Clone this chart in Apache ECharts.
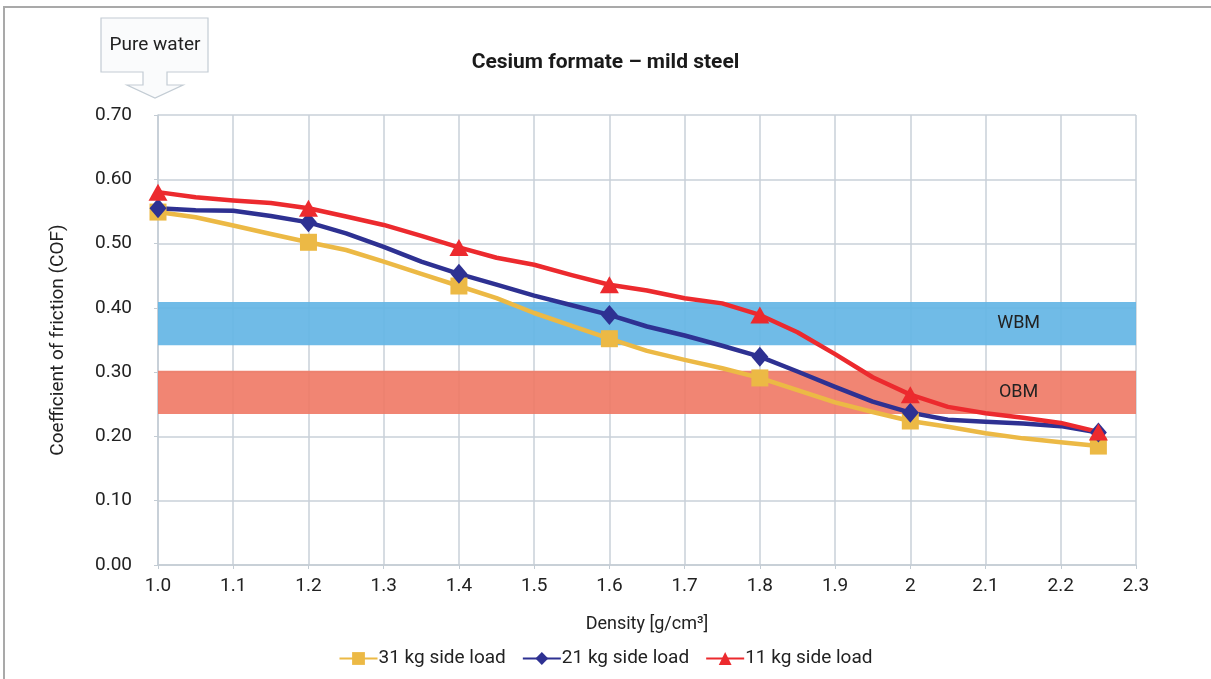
<!DOCTYPE html>
<html>
<head>
<meta charset="utf-8">
<title>Cesium formate – mild steel</title>
<script src="https://cdn.jsdelivr.net/npm/echarts@6/dist/echarts.min.js"></script>
<style>
  html, body { margin: 0; padding: 0; background: #fff; }
  #chart { width: 1211px; height: 679px; }
</style>
</head>
<body>
<div id="chart"></div>
<script>
// density values (g/cm3), one every 0.05
var density = [1.0, 1.05, 1.1, 1.15, 1.2, 1.25, 1.3, 1.35, 1.4, 1.45, 1.5, 1.55, 1.6,
  1.65, 1.7, 1.75, 1.8, 1.85, 1.9, 1.95, 2.0, 2.05, 2.1, 2.15, 2.2, 2.25];
// densities that carry a marker
var markedDensity = [1.0, 1.2, 1.4, 1.6, 1.8, 2.0, 2.25];

var cof31 = [0.549, 0.541, 0.528, 0.515, 0.502, 0.490, 0.472, 0.453, 0.434, 0.415, 0.392, 0.372, 0.352,
  0.333, 0.319, 0.306, 0.291, 0.272, 0.253, 0.238, 0.224, 0.215, 0.205, 0.197, 0.191, 0.185];
var cof21 = [0.555, 0.552, 0.551, 0.543, 0.533, 0.516, 0.495, 0.472, 0.453, 0.436, 0.419, 0.404, 0.389,
  0.371, 0.357, 0.341, 0.324, 0.301, 0.277, 0.254, 0.237, 0.226, 0.223, 0.220, 0.216, 0.206];
var cof11 = [0.580, 0.572, 0.567, 0.563, 0.555, 0.542, 0.529, 0.512, 0.494, 0.478, 0.467, 0.451, 0.436,
  0.427, 0.415, 0.407, 0.389, 0.362, 0.328, 0.292, 0.265, 0.246, 0.236, 0.229, 0.221, 0.207];

var seriesNames = ['31 kg side load', '21 kg side load', '11 kg side load'];

// COF ranges of the reference muds
var wbmBand = [0.342, 0.409];
var obmBand = [0.235, 0.302];

var xTickLabels = ['1.0', '1.1', '1.2', '1.3', '1.4', '1.5', '1.6', '1.7', '1.8', '1.9', '2', '2.1', '2.2', '2.3'];
var yTickLabels = ['0.00', '0.10', '0.20', '0.30', '0.40', '0.50', '0.60', '0.70'];

var FONT = 'Roboto, "Noto Sans", sans-serif';

function buildData(values) {
  return density.map(function (d, i) {
    var item = { value: [d, values[i]] };
    if (markedDensity.indexOf(d) < 0) item.symbol = 'none';
    return item;
  });
}

function lineSeries(name, values, color, symbol, size) {
  return {
    name: name,
    type: 'line',
    data: buildData(values),
    symbol: symbol,
    symbolSize: size,
    showAllSymbol: true,
    z: 5,
    itemStyle: { color: color },
    lineStyle: { color: color, width: 4.5, join: 'round' },
    emphasis: { disabled: true }
  };
}

var chart = echarts.init(document.getElementById('chart'));

chart.setOption({
  backgroundColor: '#fff',
  animation: false,
  textStyle: { fontFamily: FONT },
  title: {
    text: 'Cesium formate – mild steel',
    left: 'center',
    top: 47,
    textStyle: { fontFamily: FONT, fontSize: 21, fontWeight: 'bold', color: '#1a1a1a' }
  },
  legend: {
    bottom: 6,
    left: 'center',
    itemWidth: 38,
    itemHeight: 16,
    itemGap: 16,
    textStyle: { fontFamily: FONT, fontSize: 19, color: '#222', padding: [0, 0, 0, -4] },
    data: seriesNames
  },
  grid: { left: 158, right: 75, top: 115, bottom: 114 },
  xAxis: {
    type: 'value',
    min: 1.0,
    max: 2.3,
    interval: 0.1,
    name: 'Density [g/cm³]',
    nameLocation: 'middle',
    nameGap: 50,
    nameTextStyle: { fontFamily: FONT, fontSize: 18, color: '#222' },
    axisLine: { lineStyle: { color: '#c3ccd4', width: 1.5 } },
    axisTick: { show: true, length: 4, lineStyle: { color: '#c3ccd4' } },
    axisLabel: {
      fontFamily: FONT, fontSize: 19, color: '#222', margin: 12,
      formatter: function (v) {
        var i = Math.round((v - 1.0) * 10);
        return xTickLabels[i] !== undefined ? xTickLabels[i] : '';
      }
    },
    splitLine: { show: true, lineStyle: { color: '#c9d1d8', width: 1.5 } }
  },
  yAxis: {
    type: 'value',
    min: 0,
    max: 0.7,
    interval: 0.1,
    name: 'Coefficient of friction (COF)',
    nameLocation: 'middle',
    nameRotate: 90,
    nameGap: 90,
    nameTextStyle: { fontFamily: FONT, fontSize: 19, color: '#222' },
    axisLine: { show: true, lineStyle: { color: '#c3ccd4', width: 1.5 } },
    axisTick: { show: true, length: 4, lineStyle: { color: '#c3ccd4' } },
    axisLabel: {
      fontFamily: FONT, fontSize: 19, color: '#222', margin: 26,
      formatter: function (v) {
        var i = Math.round(v * 10);
        return yTickLabels[i] !== undefined ? yTickLabels[i] : '';
      }
    },
    splitLine: { show: true, lineStyle: { color: '#c9d1d8', width: 1.5 } }
  },
  series: [
    {
      name: 'bands',
      type: 'line',
      data: [],
      z: 1,
      silent: true,
      markArea: {
        silent: true,
        label: {
          position: ['88%', '50%'],
          align: 'center',
          verticalAlign: 'middle',
          fontFamily: FONT,
          fontSize: 18,
          color: '#222'
        },
        data: [
          [{ name: 'WBM', yAxis: wbmBand[0], itemStyle: { color: 'rgba(100,181,229,0.92)' } }, { yAxis: wbmBand[1] }],
          [{ name: 'OBM', yAxis: obmBand[0], itemStyle: { color: 'rgba(240,120,100,0.9)' } }, { yAxis: obmBand[1] }]
        ]
      }
    },
    lineSeries(seriesNames[0], cof31, '#ecb945', 'rect', 17),
    lineSeries(seriesNames[1], cof21, '#2e3192', 'diamond', [17, 20]),
    lineSeries(seriesNames[2], cof11, '#ec2a2e', 'triangle', [19, 17])
  ],
  graphic: [
    {
      type: 'rect',
      silent: true,
      shape: { x: 4, y: 7, width: 1212, height: 690 },
      style: { fill: 'none', stroke: '#a9a9a9', lineWidth: 2 }
    },
    {
      type: 'polygon',
      silent: true,
      shape: {
        points: [[101, 18], [208, 18], [208, 72], [167, 72], [167, 85], [183, 85], [155, 98],
          [127, 85], [143, 85], [143, 72], [101, 72]]
      },
      style: { fill: '#fafbfc', stroke: '#c3ccd4', lineWidth: 1.2 }
    },
    {
      type: 'text',
      silent: true,
      style: {
        x: 155, y: 45, text: 'Pure water', align: 'center', verticalAlign: 'middle',
        font: '19px ' + FONT, fill: '#222'
      }
    }
  ]
});
</script>
</body>
</html>
